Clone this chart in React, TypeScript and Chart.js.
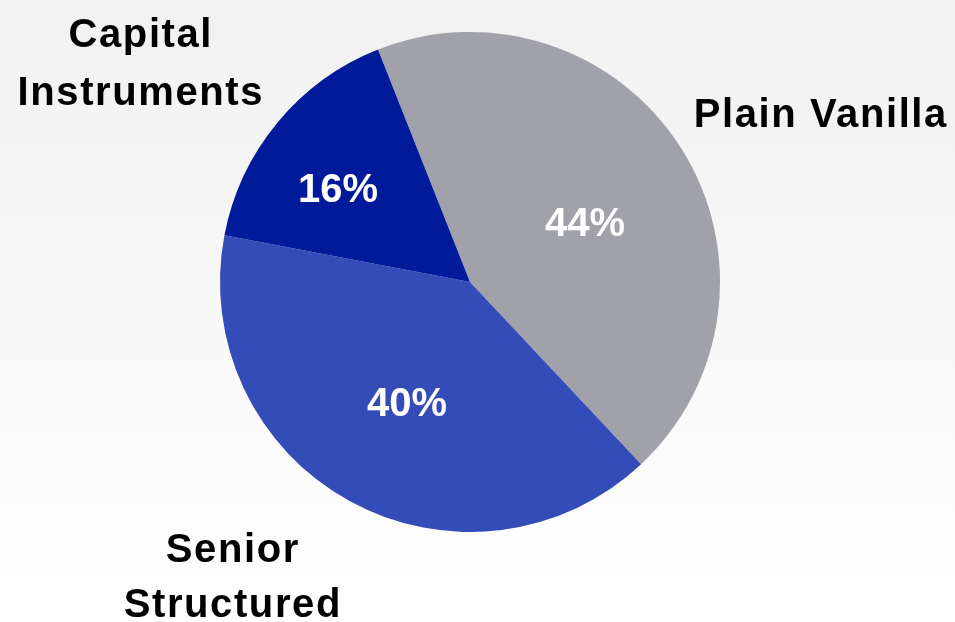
import React, { useEffect, useRef } from "react";
import { Chart, registerables } from "chart.js";

Chart.register(...registerables);

// ---- data ----
const categories = ["Plain Vanilla", "Senior Structured", "Capital Instruments"];
const shares = [44, 40, 16];
const categoryLines = [["Plain Vanilla"], ["Senior", "Structured"], ["Capital", "Instruments"]];

// ---- style ----
const sliceColors = ["#a1a1a9", "#344cb8", "#001a99"];
// percentage label placement: fraction of radius, angle offset (deg)
const pctPlacement = [
  { frac: 0.519, dAng: 4.85 },
  { frac: 0.54, dAng: -1.0 },
  { frac: 0.649, dAng: -4.0 },
];
// outer category label anchors relative to pie centre (px): x centre, first baseline, line step
const namePlacement = [
  { dx: 350, dy: -155, step: 0 },
  { dx: -238, dy: 280, step: 55 },
  { dx: -330, dy: -235, step: 58 },
];

const labelPlugin = {
  id: "sliceLabels",
  afterDatasetsDraw(chart: any) {
    const ctx = chart.ctx as CanvasRenderingContext2D;
    const meta = chart.getDatasetMeta(0);
    ctx.save();
    meta.data.forEach((arc: any, i: number) => {
      const p = arc.getProps(["x", "y", "startAngle", "endAngle", "outerRadius"], true);
      const mid = (p.startAngle + p.endAngle) / 2 + (pctPlacement[i].dAng * Math.PI) / 180;
      const r = p.outerRadius * pctPlacement[i].frac;
      const px = p.x + Math.cos(mid) * r;
      const py = p.y + Math.sin(mid) * r;
      ctx.font = "bold 40px 'Liberation Sans', Arial, sans-serif";
      (ctx as any).letterSpacing = "0px";
      ctx.fillStyle = "#ffffff";
      ctx.textAlign = "center";
      ctx.textBaseline = "alphabetic";
      ctx.fillText(`${shares[i]}%`, px, py + 14.5);

      const np = namePlacement[i];
      ctx.fillStyle = "#000000";
      (ctx as any).letterSpacing = "1.6px";
      categoryLines[i].forEach((line, j) => {
        ctx.fillText(line, p.x + np.dx + 0.8, p.y + np.dy + j * np.step);
      });
    });
    ctx.restore();
  },
};

export default function App() {
  const canvasRef = useRef<HTMLCanvasElement | null>(null);

  useEffect(() => {
    document.body.style.margin = "0";
    const canvas = canvasRef.current;
    if (!canvas) return;
    const chart = new Chart(canvas, {
      type: "pie",
      data: {
        labels: categories,
        datasets: [
          {
            data: shares,
            backgroundColor: sliceColors,
            borderWidth: 0,
          },
        ],
      },
      options: {
        responsive: false,
        animation: false,
        rotation: -21.6,
        layout: { padding: { left: 220, right: 235, top: 32, bottom: 90 } },
        plugins: {
          legend: { display: false },
          tooltip: { enabled: false },
        },
      },
      plugins: [labelPlugin],
    });
    return () => chart.destroy();
  }, []);

  return (
    <div
      style={{
        position: "fixed",
        left: 0,
        top: 0,
        width: 955,
        height: 622,
        background: "linear-gradient(to bottom, #f1f1f1 0%, #ffffff 100%)",
      }}
    >
      <canvas ref={canvasRef} width={955} height={622} style={{ display: "block" }} />
    </div>
  );
}
